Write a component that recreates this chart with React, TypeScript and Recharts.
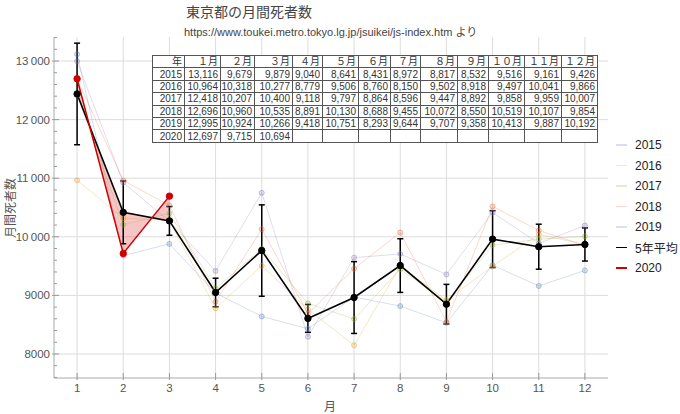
// Monthly deaths in Tokyo, 2015-2019 vs 2020, with 5-year mean and error bars

import React from "react";
import {
  ComposedChart,
  Line,
  Area,
  XAxis,
  YAxis,
  CartesianGrid,
  ErrorBar,
} from "recharts";

const FONT = '"Liberation Sans", "Noto Sans CJK JP", sans-serif';

const months = [1, 2, 3, 4, 5, 6, 7, 8, 9, 10, 11, 12];
const monthHeaders = ["１月", "２月", "３月", "４月", "５月", "６月", "７月", "８月", "９月", "１０月", "１１月", "１２月"];

const years = ["2015", "2016", "2017", "2018", "2019"];
const deaths2015 = [13116, 9679, 9879, 9040, 8641, 8431, 8972, 8817, 8532, 9516, 9161, 9426];
const deaths2016 = [10964, 10318, 10277, 8779, 9506, 8760, 8150, 9502, 8918, 9497, 10041, 9866];
const deaths2017 = [12418, 10207, 10400, 9118, 9797, 8864, 8596, 9447, 8892, 9858, 9959, 10007];
const deaths2018 = [12696, 10960, 10535, 8891, 10130, 8688, 9455, 10072, 8550, 10519, 10107, 9854];
const deaths2019 = [12995, 10924, 10266, 9418, 10751, 8293, 9644, 9707, 9358, 10413, 9887, 10192];
const deaths2020 = [12697, 9715, 10694];

// 5-year mean and sample standard deviation
const avg5 = [12437.8, 10417.6, 10271.4, 9049.2, 9765, 8607.2, 8963.4, 9509, 8850, 9960.6, 9831, 9869];
const sd5 = [867, 536, 245, 244, 780, 238, 613, 458, 338, 485, 384, 283];

const yearColors = ["#5e81b5", "#e19c24", "#8fb032", "#eb6235", "#8778b3"];
const yearSeries = [deaths2015, deaths2016, deaths2017, deaths2018, deaths2019];

const yMajor = [8000, 9000, 10000, 11000, 12000, 13000];
const yTicks = Array.from({ length: 30 }, (_, i) => 7600 + i * 200);

const data = months.map((m, i) => {
  const row: Record<string, any> = { month: m, avg: avg5[i], sd: sd5[i] };
  years.forEach((y, k) => {
    row["y" + y] = yearSeries[k][i];
  });
  row.y2020 = i < deaths2020.length ? deaths2020[i] : null;
  row.band = i < deaths2020.length ? [avg5[i], deaths2020[i]] : null;
  return row;
});

const fmtY = (v: number) =>
  v >= 10000 ? `${Math.floor(v / 1000)}\u2009${String(v % 1000).padStart(3, "0")}` : String(v);

function YTick({ x, y, payload }: any) {
  const v = payload.value;
  const major = v % 1000 === 0;
  const ax = x + 4;
  return (
    <g>
      <line x1={major ? ax - 2 : ax} x2={ax + (major ? 5 : 3)} y1={y} y2={y} stroke="#999" />
      {major && (
        <text x={x} y={y} dy="0.35em" textAnchor="end" fontSize={11.5} fill="#555" fontFamily={FONT}>
          {fmtY(v)}
        </text>
      )}
    </g>
  );
}

function XTick({ x, y, payload }: any) {
  const ay = y - 6;
  return (
    <g>
      <line x1={x} x2={x} y1={ay + 2} y2={ay - 5} stroke="#999" />
      <text x={x} y={y} dy="0.71em" textAnchor="middle" fontSize={11.5} fill="#555" fontFamily={FONT}>
        {payload.value}
      </text>
    </g>
  );
}

const legendItems = [
  ...years.map((y, k) => ({ name: y, color: yearColors[k], opacity: 0.25 })),
  { name: "5年平均", color: "#000", opacity: 1 },
  { name: "2020", color: "#d00000", opacity: 1 },
];

const cell: React.CSSProperties = {
  border: "1px solid #555",
  padding: "0 2px 0 0",
  textAlign: "right",
  height: 11.4,
  lineHeight: "11px",
  whiteSpace: "nowrap",
  overflow: "hidden",
};
const colWidths = [32, 36, 34, 38, 30, 36, 32, 30, 37, 31, 36, 37, 36];
const tableRows = [
  ...years.map((y, k) => ({ year: y, values: yearSeries[k] })),
  { year: "2020", values: deaths2020 },
];

export default function App() {
  return (
    <div
      style={{
        position: "absolute",
        left: 0,
        top: 0,
        width: 680,
        height: 414,
        overflow: "hidden",
        background: "#fff",
        fontFamily: FONT,
      }}
    >
      <ComposedChart
        width={680}
        height={414}
        data={data}
        margin={{ top: 37, right: 72, bottom: 0, left: 10 }}
      >
        <CartesianGrid
          stroke="#dcdcdc"
          horizontalValues={yMajor}
          verticalValues={months}
        />
        <XAxis
          type="number"
          dataKey="month"
          domain={[0.5, 12.5]}
          ticks={months}
          interval={0}
          height={36}
          tickSize={0}
          tickMargin={6}
          tickLine={false}
          tick={<XTick />}
          axisLine={{ stroke: "#aaa" }}
          allowDataOverflow
        />
        <XAxis
          xAxisId="top"
          orientation="top"
          type="number"
          dataKey="month"
          domain={[0.5, 12.5]}
          height={0}
          tick={false}
          tickLine={false}
          axisLine={{ stroke: "#aaa" }}
        />
        <YAxis
          type="number"
          domain={[7590, 13410]}
          ticks={yTicks}
          interval={0}
          width={44}
          tickSize={0}
          tickMargin={4}
          tickLine={false}
          tick={<YTick />}
          axisLine={{ stroke: "#aaa" }}
          allowDataOverflow
        />
        <YAxis
          yAxisId="right"
          orientation="right"
          type="number"
          domain={[7590, 13410]}
          width={0}
          tick={false}
          tickLine={false}
          axisLine={{ stroke: "#aaa" }}
        />
        {years.map((y, k) => (
          <Line
            key={y}
            dataKey={"y" + y}
            type="linear"
            stroke={yearColors[k]}
            strokeOpacity={0.25}
            strokeWidth={1}
            dot={{
              r: 2.5,
              fill: yearColors[k],
              fillOpacity: 0.2,
              stroke: yearColors[k],
              strokeOpacity: 0.45,
              strokeWidth: 1,
            }}
            isAnimationActive={false}
          />
        ))}
        <Area
          dataKey="band"
          type="linear"
          fill="#e04040"
          fillOpacity={0.3}
          stroke="none"
          isAnimationActive={false}
        />
        <Line
          dataKey="avg"
          type="linear"
          stroke="#000"
          strokeWidth={1.6}
          dot={{ r: 3.2, fill: "#000", stroke: "#000", strokeWidth: 1 }}
          isAnimationActive={false}
        >
          <ErrorBar dataKey="sd" width={3} stroke="#000" strokeWidth={1.5} direction="y" />
        </Line>
        <Line
          dataKey="y2020"
          type="linear"
          stroke="#d00000"
          strokeWidth={1.5}
          dot={{ r: 3.2, fill: "#d00000", stroke: "#d00000", strokeWidth: 1 }}
          isAnimationActive={false}
        />
      </ComposedChart>

      <div style={{ position: "absolute", left: 186, top: 1, fontSize: 14, color: "#444" }}>
        東京都の月間死者数
      </div>
      <div style={{ position: "absolute", left: 184, top: 23, fontSize: 11, color: "#444" }}>
        https://www.toukei.metro.tokyo.lg.jp/jsuikei/js-index.htm より
      </div>

      <table
        style={{
          position: "absolute",
          left: 152,
          top: 55,
          width: 445,
          borderCollapse: "collapse",
          tableLayout: "fixed",
          background: "#fff",
          fontSize: 10,
          color: "#333",
        }}
      >
        <colgroup>
          {colWidths.map((w, i) => (
            <col key={i} style={{ width: w }} />
          ))}
        </colgroup>
        <tbody>
          <tr>
            <td style={cell}>年</td>
            {monthHeaders.map((h) => (
              <td key={h} style={cell}>
                {h}
              </td>
            ))}
          </tr>
          {tableRows.map((r) => (
            <tr key={r.year}>
              <td style={cell}>{r.year}</td>
              {months.map((m, i) => (
                <td key={m} style={cell}>
                  {r.values[i] !== undefined ? r.values[i].toLocaleString("en-US") : ""}
                </td>
              ))}
            </tr>
          ))}
        </tbody>
      </table>

      {legendItems.map((it, i) => (
        <div
          key={it.name}
          style={{
            position: "absolute",
            left: 616,
            top: 145 + i * 20.5 - 8,
            height: 16,
            display: "flex",
            alignItems: "center",
            fontSize: 12,
            color: "#222",
          }}
        >
          <span
            style={{
              display: "inline-block",
              width: 11,
              height: 1.5,
              background: it.color,
              opacity: it.opacity,
              marginRight: 8,
            }}
          />
          {it.name}
        </div>
      ))}

      <div
        style={{
          position: "absolute",
          left: 9,
          top: 208,
          transform: "translate(-50%, -50%) rotate(-90deg)",
          whiteSpace: "nowrap",
          fontSize: 12,
          color: "#555",
        }}
      >
        月間死者数
      </div>
      <div
        style={{
          position: "absolute",
          left: 330,
          top: 405,
          transform: "translate(-50%, -50%)",
          fontSize: 12,
          color: "#555",
        }}
      >
        月
      </div>
    </div>
  );
}
